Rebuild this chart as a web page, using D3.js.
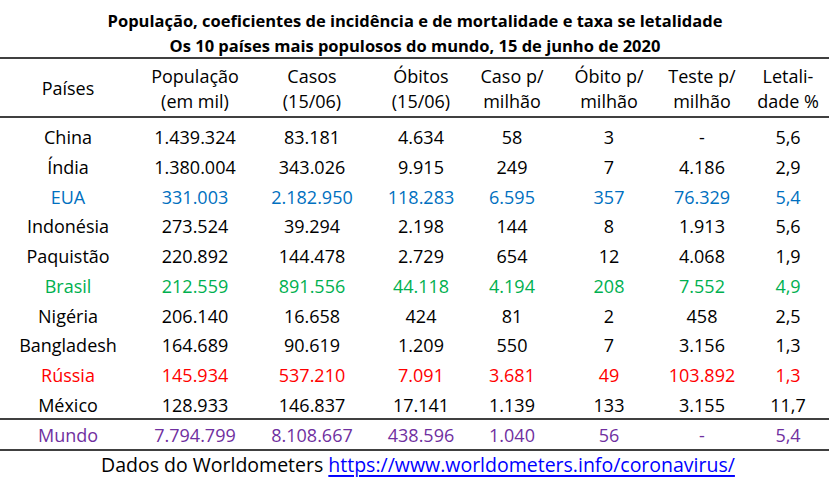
<!DOCTYPE html>
<html><head><meta charset="utf-8">
<script src="https://cdn.jsdelivr.net/npm/d3@7"></script>
<style>body{margin:0;background:#fff}text{font-family:"Open Sans","Noto Sans",sans-serif}</style>
</head><body>
<svg id="c" width="831" height="479"></svg>
<script>
const titleLines = ["População, coeficientes de incidência e de mortalidade e taxa se letalidade",
                    "Os 10 países mais populosos do mundo, 15 de junho de 2020"];
const headers1 = ["", "População", "Casos", "Óbitos", "Caso p/", "Óbito p/", "Teste p/", "Letali-"];
const headers2 = ["", "(em mil)", "(15/06)", "(15/06)", "milhão", "milhão", "milhão", "dade %"];
const firstHeader = "Países";
const countries = ["China","Índia","EUA","Indonésia","Paquistão","Brasil","Nigéria","Bangladesh","Rússia","México"];
const populacao = ["1.439.324","1.380.004","331.003","273.524","220.892","212.559","206.140","164.689","145.934","128.933"];
const casos = ["83.181","343.026","2.182.950","39.294","144.478","891.556","16.658","90.619","537.210","146.837"];
const obitos = ["4.634","9.915","118.283","2.198","2.729","44.118","424","1.209","7.091","17.141"];
const casoMilhao = ["58","249","6.595","144","654","4.194","81","550","3.681","1.139"];
const obitoMilhao = ["3","7","357","8","12","208","2","7","49","133"];
const testeMilhao = ["-","4.186","76.329","1.913","4.068","7.552","458","3.156","103.892","3.155"];
const letalidade = ["5,6","2,9","5,4","5,6","1,9","4,9","2,5","1,3","1,3","11,7"];
const mundo = ["Mundo","7.794.799","8.108.667","438.596","1.040","56","-","5,4"];
const highlight = {"EUA":"#0070C0","Brasil":"#00B050","Rússia":"#FF0000"};
const mundoColor = "#7030A0";
const footerText = "Dados do Worldometers ";
const footerLink = "https://www.worldometers.info/coronavirus/";

const svg = d3.select("#c");
const colIdx = d3.range(8);
const x = d3.scaleOrdinal().domain(colIdx).range([68,195,312,421,512,609,702,788]);
const y = d3.scalePoint().domain(countries).range([137,405]);
const FS = 18;

svg.selectAll("text.title").data(titleLines).join("text")
  .attr("class","title").attr("x",415).attr("y",(d,i)=>20+i*25)
  .attr("text-anchor","middle").attr("dominant-baseline","central")
  .attr("font-weight","bold").attr("font-size",16.5).text(d=>d);

const rules = [58,117,419,450];
svg.selectAll("line.rule").data(rules).join("line")
  .attr("x1",0).attr("x2",829).attr("y1",d=>d).attr("y2",d=>d)
  .attr("stroke","#000").attr("stroke-width",1.5);

[[headers1,76],[headers2,101]].forEach(([h,yy])=>{
  svg.append("g").selectAll("text").data(h).join("text")
    .attr("x",(d,i)=>x(i)).attr("y",yy)
    .attr("text-anchor","middle").attr("dominant-baseline","central")
    .attr("font-size",FS).text(d=>d);
});
svg.append("text").attr("x",x(0)).attr("y",88)
  .attr("text-anchor","middle").attr("dominant-baseline","central")
  .attr("font-size",FS).text(firstHeader);

const rows = countries.map((c,i)=>[c,populacao[i],casos[i],obitos[i],casoMilhao[i],obitoMilhao[i],testeMilhao[i],letalidade[i]]);
const rg = svg.append("g").selectAll("g").data(rows).join("g")
  .attr("transform",d=>`translate(0,${y(d[0])})`)
  .attr("fill",d=>highlight[d[0]]||"#000");
rg.selectAll("text").data(d=>d).join("text")
  .attr("x",(d,i)=>x(i)).attr("y",0)
  .attr("text-anchor","middle").attr("dominant-baseline","central")
  .attr("font-size",FS).text(d=>d);

svg.append("g").attr("fill",mundoColor).selectAll("text").data(mundo).join("text")
  .attr("x",(d,i)=>x(i)).attr("y",435)
  .attr("text-anchor","middle").attr("dominant-baseline","central")
  .attr("font-size",FS).text(d=>d);

const ft = svg.append("text").attr("x",418).attr("y",464)
  .attr("text-anchor","middle").attr("dominant-baseline","central").attr("font-size",19.5);
ft.append("tspan").attr("fill","#000").text(footerText);
ft.append("tspan").attr("fill","#0000FF").attr("text-decoration","underline").text(footerLink);
</script>
</body></html>
